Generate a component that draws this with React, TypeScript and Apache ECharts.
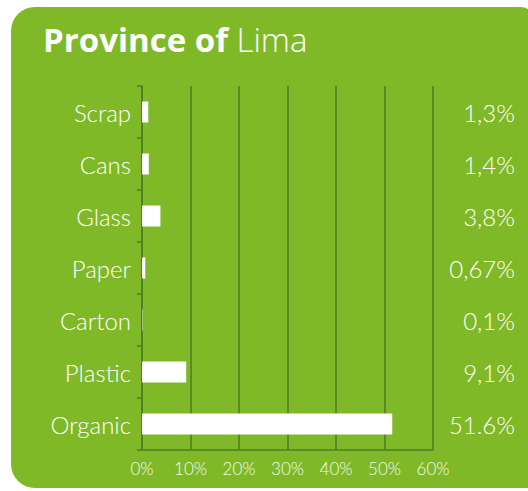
import React, { useEffect, useRef } from "react";
import * as echarts from "echarts";

const categories = ["Scrap", "Cans", "Glass", "Paper", "Carton", "Plastic", "Organic"];
const values = [1.3, 1.4, 3.8, 0.67, 0.1, 9.1, 51.6];
const valueLabels = ["1,3%", "1,4%", "3,8%", "0,67%", "0,1%", "9,1%", "51.6%"];
const titleBold = "Province of";
const titleLight = "Lima";

const GREEN = "#80b928";
const DARK = "#4b7d26";
const FONT = "Lato, 'Open Sans', sans-serif";
const TFONT = "'Open Sans', Lato, sans-serif";

export default function App() {
  const ref = useRef<HTMLDivElement>(null);
  useEffect(() => {
    if (!ref.current) return;
    const chart = echarts.init(ref.current, undefined, { renderer: "svg" });
    chart.setOption({
      animation: false,
      backgroundColor: "#ffffff",
      textStyle: { fontFamily: FONT },
      graphic: [
        {
          type: "rect",
          z: -10,
          shape: { x: 11, y: 7, width: 522, height: 481, r: [24, 12, 0, 24] },
          style: { fill: GREEN },
        },
        {
          type: "text",
          x: 43,
          y: 56,
          style: {
            text: `{b|${titleBold}\u00a0}{l|${titleLight}}`,
            verticalAlign: "bottom",
            fill: "#ffffff",
            rich: {
              b: { fontFamily: TFONT, fontSize: 33, fontWeight: "bold", fill: "#ffffff", color: "#ffffff" },
              l: { fontFamily: TFONT, fontSize: 33, fontWeight: 300, fill: "#ffffff", color: "#ffffff" },
            },
          },
        },
      ],
      grid: { left: 142, right: 95, top: 86, bottom: 41, containLabel: false },
      xAxis: {
        type: "value",
        min: 0,
        max: 60,
        interval: 10,
        axisLine: { show: true, lineStyle: { color: DARK, width: 1.5 } },
        axisTick: { show: false },
        splitLine: { show: true, lineStyle: { color: DARK, width: 1.5 } },
        axisLabel: {
          formatter: "{value}%",
          color: "#f4f9ec",
          fontSize: 17,
          fontWeight: 300,
          margin: 10,
          fontFamily: FONT,
        },
      },
      yAxis: [
        {
          type: "category",
          data: categories,
          inverse: true,
          axisLine: { show: true, lineStyle: { color: DARK, width: 1.5 } },
          axisTick: { show: true, length: 5, lineStyle: { color: DARK, width: 1.5 } },
          axisLabel: { color: "#ffffff", fontSize: 24, fontWeight: 300, margin: 11, fontFamily: FONT },
        },
        {
          type: "category",
          data: valueLabels,
          inverse: true,
          position: "right",
          axisLine: { show: false },
          axisTick: { show: false },
          axisLabel: { color: "#ffffff", fontSize: 24, fontWeight: 300, margin: 82, align: "right", fontFamily: FONT },
        },
      ],
      series: [
        {
          type: "bar",
          data: values,
          yAxisIndex: 0,
          barWidth: 21,
          itemStyle: { color: "#ffffff" },
        },
      ],
    });
    return () => chart.dispose();
  }, []);
  return (
    <div
      ref={ref}
      style={{ position: "absolute", left: 0, top: 0, width: 528, height: 491 }}
    />
  );
}
